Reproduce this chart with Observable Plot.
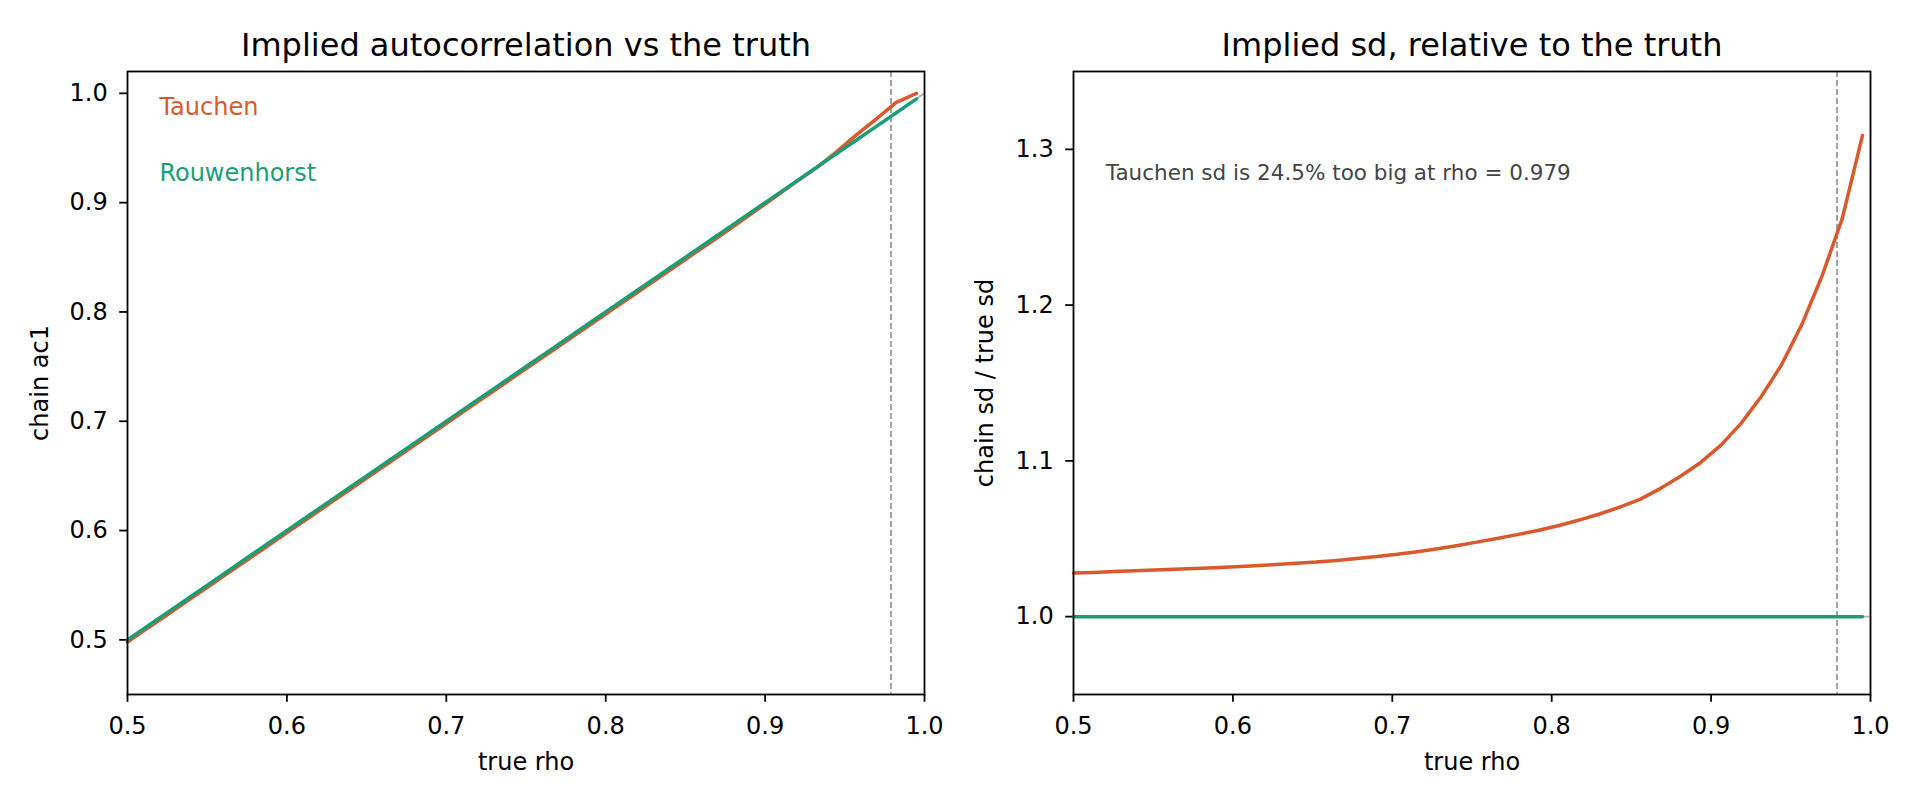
<!DOCTYPE html>
<html>
<head>
<meta charset="utf-8">
<script src="https://cdn.jsdelivr.net/npm/d3@7"></script>
<script src="https://cdn.jsdelivr.net/npm/@observablehq/plot@0.6"></script>
<style>
  html, body { margin: 0; padding: 0; background: #fff; }
  #wrap { display: flex; width: 1920px; height: 806px; }
  svg { display: block; }
</style>
</head>
<body>
<div id="wrap"></div>
<script>
// ---- data ----
const rho = [0.5000,0.5127,0.5254,0.5381,0.5508,0.5635,0.5762,0.5888,0.6015,0.6142,
             0.6269,0.6396,0.6523,0.6650,0.6777,0.6904,0.7031,0.7158,0.7285,0.7412,
             0.7538,0.7665,0.7792,0.7919,0.8046,0.8173,0.8300,0.8427,0.8554,0.8681,
             0.8808,0.8935,0.9062,0.9188,0.9315,0.9442,0.9569,0.9696,0.9823,0.9950];
const tauchenAc1 = [0.4980,0.5107,0.5234,0.5361,0.5488,0.5615,0.5742,0.5868,0.5995,0.6122,
                    0.6249,0.6376,0.6503,0.6630,0.6757,0.6884,0.7011,0.7138,0.7265,0.7392,
                    0.7518,0.7645,0.7772,0.7899,0.8026,0.8153,0.8280,0.8407,0.8534,0.8661,
                    0.8788,0.8920,0.9052,0.9183,0.9312,0.9458,0.9615,0.9765,0.9918,1.0000];
const rouwenhorstAc1 = [0.5000,0.5127,0.5254,0.5381,0.5508,0.5635,0.5762,0.5888,0.6015,0.6142,
                        0.6269,0.6396,0.6523,0.6650,0.6777,0.6904,0.7031,0.7158,0.7285,0.7412,
                        0.7538,0.7665,0.7792,0.7919,0.8046,0.8173,0.8300,0.8427,0.8554,0.8681,
                        0.8808,0.8935,0.9062,0.9188,0.9315,0.9442,0.9569,0.9696,0.9823,0.9950];
const tauchenSd = [1.0280,1.0284,1.0289,1.0294,1.0299,1.0304,1.0309,1.0314,1.0320,1.0327,
                   1.0334,1.0342,1.0350,1.0361,1.0373,1.0386,1.0400,1.0417,1.0436,1.0457,
                   1.0480,1.0503,1.0528,1.0555,1.0585,1.0620,1.0659,1.0703,1.0753,1.0822,
                   1.0901,1.0990,1.1101,1.1241,1.1413,1.1617,1.1875,1.2187,1.2557,1.3090];
const rouwenhorstSd = [1,1,1,1,1,1,1,1,1,1, 1,1,1,1,1,1,1,1,1,1,
                       1,1,1,1,1,1,1,1,1,1, 1,1,1,1,1,1,1,1,1,1];
const diagX = [0.5, 1.0];
const diagY = [0.5, 1.0];
const flatX = [0.5, 1.0];
const flatY = [1.0, 1.0];
const rhoMark = [0.979];
const xTicks = [0.5, 0.6, 0.7, 0.8, 0.9, 1.0];
const leftYTicks = [0.5, 0.6, 0.7, 0.8, 0.9, 1.0];
const rightYTicks = [1.0, 1.1, 1.2, 1.3];
const titles = ["Implied autocorrelation vs the truth", "Implied sd, relative to the truth"];
const yLabels = ["chain ac1", "chain sd / true sd"];
const xLabel = "true rho";
const seriesNames = ["Tauchen", "Rouwenhorst"];
const noteText = "Tauchen sd is 24.5% too big at rho = 0.979";

// ---- build ----
const ORANGE = "#d9592d";
const GREEN = "#1b9e77";
const FONT = "DejaVu Sans";
const fmt = d3.format(".1f");

const rows = (xs, ys) => xs.map((x, i) => ({x, y: ys[i]}));

function commonAxes(yTicks) {
  return [
    Plot.axisX({ticks: xTicks, tickSize: 7.8, tickPadding: 15, tickFormat: fmt, label: null,
                fontSize: 24, strokeWidth: 1.8}),
    Plot.axisY({ticks: yTicks, tickSize: 7.8, tickPadding: 12, tickFormat: fmt, label: null,
                fontSize: 24, strokeWidth: 1.8})
  ];
}

function labels(i, ylabDx) {
  return [
    Plot.text([titles[i]], {frameAnchor: "top", dy: -26, lineAnchor: "middle", textAnchor: "middle", fontSize: 32, fill: "black"}),
    Plot.text([yLabels[i]], {frameAnchor: "left", dx: ylabDx, rotate: -90, lineAnchor: "middle", textAnchor: "middle", fontSize: 24, fill: "black"}),
    Plot.text([xLabel], {frameAnchor: "bottom", dy: 68, lineAnchor: "middle", textAnchor: "middle", fontSize: 24, fill: "black"})
  ];
}

const left = Plot.plot({
  width: 960, height: 806,
  marginTop: 71, marginBottom: 112, marginLeft: 127, marginRight: 36,
  x: {domain: [0.5, 1.0]},
  y: {domain: [0.45, 1.02]},
  style: {fontFamily: FONT, fontSize: "24px", color: "black", background: "white", overflow: "visible"},
  marks: [
    ...commonAxes(leftYTicks),
    Plot.line(rows(diagX, diagY), {x: "x", y: "y", stroke: "#b5b5b5", strokeWidth: 1.8}),
    Plot.ruleX(rhoMark, {stroke: "#999", strokeWidth: 1.8, strokeDasharray: "6,3"}),
    Plot.line(rows(rho, tauchenAc1), {x: "x", y: "y", stroke: ORANGE, strokeWidth: 3.5}),
    Plot.line(rows(rho, rouwenhorstAc1), {x: "x", y: "y", stroke: GREEN, strokeWidth: 3.5}),
    Plot.text([seriesNames[0]], {x: 0.52, y: 0.9876, text: d => d, textAnchor: "start", lineAnchor: "middle", fill: ORANGE, fontSize: 24}),
    Plot.text([seriesNames[1]], {x: 0.52, y: 0.927, text: d => d, textAnchor: "start", lineAnchor: "middle", fill: GREEN, fontSize: 24}),
    Plot.frame({stroke: "black", strokeWidth: 1.8}),
    ...labels(0, -87)
  ]
});

const right = Plot.plot({
  width: 960, height: 806,
  marginTop: 71, marginBottom: 112, marginLeft: 113, marginRight: 50,
  x: {domain: [0.5, 1.0]},
  y: {domain: [0.95, 1.35]},
  style: {fontFamily: FONT, fontSize: "24px", color: "black", background: "white", overflow: "visible"},
  marks: [
    ...commonAxes(rightYTicks),
    Plot.line(rows(flatX, flatY), {x: "x", y: "y", stroke: "#b5b5b5", strokeWidth: 1.8}),
    Plot.ruleX(rhoMark, {stroke: "#999", strokeWidth: 1.8, strokeDasharray: "6,3"}),
    Plot.line(rows(rho, tauchenSd), {x: "x", y: "y", stroke: ORANGE, strokeWidth: 3.5}),
    Plot.line(rows(rho, rouwenhorstSd), {x: "x", y: "y", stroke: GREEN, strokeWidth: 3.5}),
    Plot.text([noteText], {x: 0.5203, y: 1.285, text: d => d, textAnchor: "start", lineAnchor: "middle", fill: "#444", fontSize: 21.5}),
    Plot.frame({stroke: "black", strokeWidth: 1.8}),
    ...labels(1, -88)
  ]
});

const wrap = document.getElementById("wrap");
wrap.appendChild(left);
wrap.appendChild(right);
</script>
</body>
</html>
